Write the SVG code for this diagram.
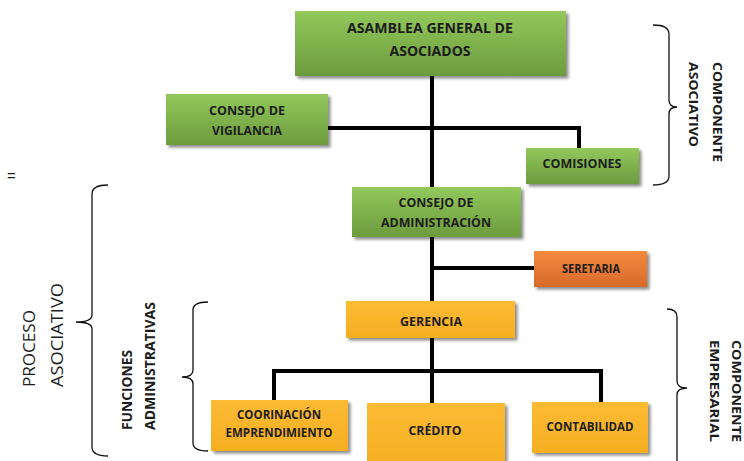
<svg xmlns="http://www.w3.org/2000/svg" width="744" height="461" viewBox="0 0 744 461">
<defs>
<linearGradient id="gGreen" x1="0" y1="0" x2="0" y2="1"><stop offset="0" stop-color="#93c85c"/><stop offset="1" stop-color="#6c9b3d"/></linearGradient>
<linearGradient id="gGold" x1="0" y1="0" x2="0" y2="1"><stop offset="0" stop-color="#fcbb34"/><stop offset="1" stop-color="#f6ae22"/></linearGradient>
<linearGradient id="gOrange" x1="0" y1="0" x2="0" y2="1"><stop offset="0" stop-color="#f38b3e"/><stop offset="1" stop-color="#d8692a"/></linearGradient>
<filter id="sh" x="-10%" y="-10%" width="125%" height="140%"><feDropShadow dx="2.5" dy="2.5" stdDeviation="1.5" flood-color="#000" flood-opacity="0.45"/></filter>
</defs>
<style>
.green{fill:url(#gGreen);filter:url(#sh)}
.gold{fill:url(#gGold);filter:url(#sh)}
.orange{fill:url(#gOrange);filter:url(#sh)}
.lbl{font-family:"Open Sans","Liberation Sans",sans-serif;font-weight:bold;fill:#1c1c1c;text-anchor:middle}
.side{font-family:"Open Sans","Liberation Sans",sans-serif;font-weight:bold;fill:#1c1c1c}
.big{font-family:"Open Sans","Liberation Sans",sans-serif;fill:#1c1c1c;font-size:17px}
.conn{fill:none;stroke:#000;stroke-width:4}
.brace{fill:none;stroke:#111;stroke-width:1.3}
</style>
<rect width="744" height="461" fill="#fff"/>
<g id="connectors">
<path class="conn" d="M432,76 V403"/>
<path class="conn" d="M328,128 H579 V148"/>
<path class="conn" d="M432,268 H534"/>
<path class="conn" d="M274,400 V371 H601 V404"/>
</g>
<g id="asamblea"><rect class="green" x="295" y="11" width="271" height="65"/>
<text class="lbl" font-size="14" x="430" y="33" textLength="166" lengthAdjust="spacingAndGlyphs">ASAMBLEA GENERAL DE</text>
<text class="lbl" font-size="14" x="430" y="56" textLength="81" lengthAdjust="spacingAndGlyphs">ASOCIADOS</text></g>
<g id="vigilancia"><rect class="green" x="166" y="94" width="162" height="51"/>
<text class="lbl" font-size="13" x="247" y="115" textLength="76" lengthAdjust="spacingAndGlyphs">CONSEJO DE</text>
<text class="lbl" font-size="13" x="247" y="135" textLength="70" lengthAdjust="spacingAndGlyphs">VIGILANCIA</text></g>
<g id="comisiones"><rect class="green" x="526" y="148" width="113" height="36"/>
<text class="lbl" font-size="13" x="582" y="168" textLength="79" lengthAdjust="spacingAndGlyphs">COMISIONES</text></g>
<g id="administracion"><rect class="green" x="352" y="187" width="169" height="50"/>
<text class="lbl" font-size="13" x="436" y="207" textLength="75" lengthAdjust="spacingAndGlyphs">CONSEJO DE</text>
<text class="lbl" font-size="13" x="436" y="227" textLength="110" lengthAdjust="spacingAndGlyphs">ADMINISTRACIÓN</text></g>
<g id="seretaria"><rect class="orange" x="534" y="251" width="113" height="36"/>
<text class="lbl" font-size="11.5" x="591" y="273" textLength="58" lengthAdjust="spacingAndGlyphs">SERETARIA</text></g>
<g id="gerencia"><rect class="gold" x="346" y="301" width="169" height="37"/>
<text class="lbl" font-size="13" x="431" y="326" textLength="62" lengthAdjust="spacingAndGlyphs">GERENCIA</text></g>
<g id="coordinacion"><rect class="gold" x="211" y="400" width="137" height="51"/>
<text class="lbl" font-size="12.5" x="279" y="419" textLength="84" lengthAdjust="spacingAndGlyphs">COORINACIÓN</text>
<text class="lbl" font-size="12.5" x="279" y="437" textLength="107" lengthAdjust="spacingAndGlyphs">EMPRENDIMIENTO</text></g>
<g id="credito"><rect class="gold" x="367" y="403" width="138" height="70"/>
<text class="lbl" font-size="13" x="435" y="435" textLength="53" lengthAdjust="spacingAndGlyphs">CRÉDITO</text></g>
<g id="contabilidad"><rect class="gold" x="532" y="402" width="116" height="51"/>
<text class="lbl" font-size="12.5" x="590" y="431" textLength="87" lengthAdjust="spacingAndGlyphs">CONTABILIDAD</text></g>
<g id="braces">
<path class="brace" d="M108,185 Q92,185 92,194 L92,315 Q92,322 76,322 Q92,322 92,329 L92,447 Q92,456 108,456"/>
<path class="brace" d="M208,302 Q193,302 193,310 L193,370 Q193,377 182,377 Q193,377 193,384 L193,443 Q193,451 208,451"/>
<path class="brace" d="M653,25 Q669,25 669,34 L669,100 Q669,107 677,107 Q669,107 669,114 L669,176 Q669,185 653,185"/>
<path class="brace" d="M667,309 Q677,309 677,317 L677,381 Q677,388 687,388 Q677,388 677,395 L677,470"/>
</g>
<g id="side-labels">
<text x="7" y="181" font-family="Liberation Sans, sans-serif" font-size="15" fill="#1c1c1c">=</text>
<text class="big" transform="translate(35,387) rotate(-90)" textLength="77" lengthAdjust="spacingAndGlyphs">PROCESO</text>
<text class="big" transform="translate(63,387) rotate(-90)" textLength="104" lengthAdjust="spacingAndGlyphs">ASOCIATIVO</text>
<text class="side" font-size="14" transform="translate(132,430) rotate(-90)" textLength="80" lengthAdjust="spacingAndGlyphs">FUNCIONES</text>
<text class="side" font-size="14" transform="translate(155,430) rotate(-90)" textLength="128" lengthAdjust="spacingAndGlyphs">ADMINISTRATIVAS</text>
<text class="side" font-size="13" transform="translate(713,62) rotate(90)" textLength="100" lengthAdjust="spacingAndGlyphs">COMPONENTE</text>
<text class="side" font-size="13" transform="translate(689,62) rotate(90)" textLength="85" lengthAdjust="spacingAndGlyphs">ASOCIATIVO</text>
<text class="side" font-size="12.5" transform="translate(732,340) rotate(90)" textLength="102" lengthAdjust="spacingAndGlyphs">COMPONENTE</text>
<text class="side" font-size="12.5" transform="translate(710,340) rotate(90)" textLength="102" lengthAdjust="spacingAndGlyphs">EMPRESARIAL</text>
</g>
</svg>
